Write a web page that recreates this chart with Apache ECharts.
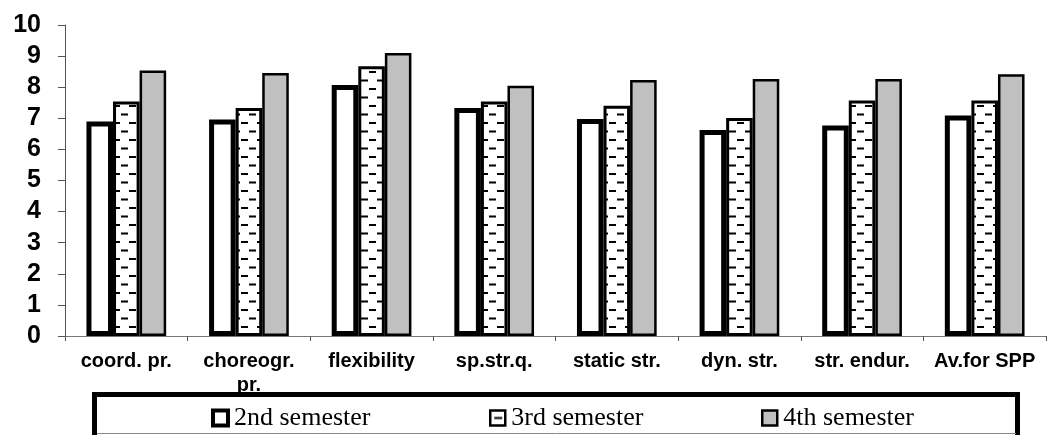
<!DOCTYPE html>
<html>
<head>
<meta charset="utf-8">
<script src="https://cdn.jsdelivr.net/npm/echarts@6/dist/echarts.min.js"></script>
<style>
  html, body { margin: 0; padding: 0; background: #fff; }
  #chart { width: 1047px; height: 435px; }
</style>
</head>
<body>
<div id="chart"></div>
<script>
// Motor quality scores by semester
const categories = ['coord. pr.', 'choreogr.\npr.', 'flexibility', 'sp.str.q.', 'static str.', 'dyn. str.', 'str. endur.', 'Av.for SPP'];
const seriesNames = ['2nd semester', '3rd semester', '4th semester'];
const semester2 = [6.90, 6.96, 8.07, 7.33, 6.98, 6.62, 6.77, 7.09];
const semester3 = [7.54, 7.33, 8.67, 7.54, 7.40, 7.01, 7.57, 7.57];
const semester4 = [8.54, 8.46, 9.10, 8.05, 8.23, 8.26, 8.26, 8.42];
const yTicks = { min: 0, max: 10, interval: 1 };

// Short dash hatch used for the 3rd semester bars
function dashPattern() {
  const c = document.createElement('canvas');
  c.width = 16; c.height = 17;
  const ctx = c.getContext('2d');
  ctx.fillStyle = '#fff';
  ctx.fillRect(0, 0, 16, 17);
  ctx.fillStyle = '#000';
  ctx.fillRect(1, 3, 7, 2);
  ctx.fillRect(9, 11.5, 7, 2);
  return c;
}
const hatch = { image: dashPattern(), repeat: 'repeat' };

// Legend swatch for the hatched series: white square with one dash
function dashSwatch() {
  const c = document.createElement('canvas');
  c.width = 16; c.height = 15;
  const ctx = c.getContext('2d');
  ctx.fillStyle = '#fff';
  ctx.fillRect(0, 0, 16, 15);
  ctx.fillStyle = '#000';
  ctx.fillRect(4, 6.5, 8, 2);
  return c;
}

const chart = echarts.init(document.getElementById('chart'), null, { renderer: 'canvas' });

const labelFont = 'Liberation Sans, Arial, sans-serif';
const legendFont = 'Liberation Serif, Times New Roman, serif';

function legendAt(name, left, itemStyle) {
  return {
    data: [name],
    left: left,
    top: 405,
    padding: 0,
    icon: 'rect',
    itemWidth: 15,
    itemHeight: 15,
    itemGap: 6,
    z: 20,
    selectedMode: false,
    itemStyle: itemStyle,
    textStyle: { fontFamily: legendFont, fontSize: 26, color: '#000', padding: [0, 0, 0, 1] }
  };
}

chart.setOption({
  animation: false,
  backgroundColor: '#fff',
  grid: { left: 65, right: 1, top: 25, bottom: 99, containLabel: false },
  xAxis: {
    type: 'category',
    data: categories,
    boundaryGap: true,
    axisLine: { lineStyle: { color: '#777', width: 1 } },
    axisTick: { show: true, length: 5, lineStyle: { color: '#555' } },
    axisLabel: {
      interval: 0,
      margin: 13,
      color: '#000',
      fontFamily: labelFont,
      fontWeight: 'bold',
      fontSize: 20,
      lineHeight: 24
    },
    splitLine: { show: false }
  },
  yAxis: {
    type: 'value',
    min: yTicks.min,
    max: yTicks.max,
    interval: yTicks.interval,
    axisLine: { show: true, lineStyle: { color: '#555', width: 1 } },
    axisTick: { show: true, length: 7, lineStyle: { color: '#555' } },
    axisLabel: {
      margin: 24,
      color: '#000',
      fontFamily: labelFont,
      fontWeight: 'bold',
      fontSize: 25
    },
    splitLine: { show: false }
  },
  legend: [
    legendAt(seriesNames[0], 211, { color: '#fff', borderColor: '#000', borderWidth: 4 }),
    legendAt(seriesNames[1], 489, { color: { image: dashSwatch(), repeat: 'no-repeat' }, borderColor: '#000', borderWidth: 2.5 }),
    legendAt(seriesNames[2], 761, { color: '#c0c0c0', borderColor: '#000', borderWidth: 2.5 })
  ],
  graphic: [
    {
      type: 'rect',
      z: 10,
      shape: { x: 94.5, y: 394.5, width: 923, height: 50 },
      style: { fill: '#fff', stroke: '#000', lineWidth: 5 }
    },
    {
      type: 'line',
      z: 11,
      shape: { x1: 97, y1: 433.5, x2: 1016, y2: 433.5 },
      style: { stroke: '#888', lineWidth: 1 }
    }
  ],
  series: [
    {
      name: seriesNames[0],
      type: 'bar',
      data: semester2,
      barGap: '0%',
      barCategoryGap: '35%',
      itemStyle: { color: '#fff', borderColor: '#000', borderWidth: 5 }
    },
    {
      name: seriesNames[1],
      type: 'bar',
      data: semester3,
      barGap: '0%',
      barCategoryGap: '35%',
      itemStyle: { color: hatch, borderColor: '#000', borderWidth: 3 }
    },
    {
      name: seriesNames[2],
      type: 'bar',
      data: semester4,
      barGap: '0%',
      barCategoryGap: '35%',
      itemStyle: { color: '#c0c0c0', borderColor: '#000', borderWidth: 2.5 }
    }
  ]
});
</script>
</body>
</html>
